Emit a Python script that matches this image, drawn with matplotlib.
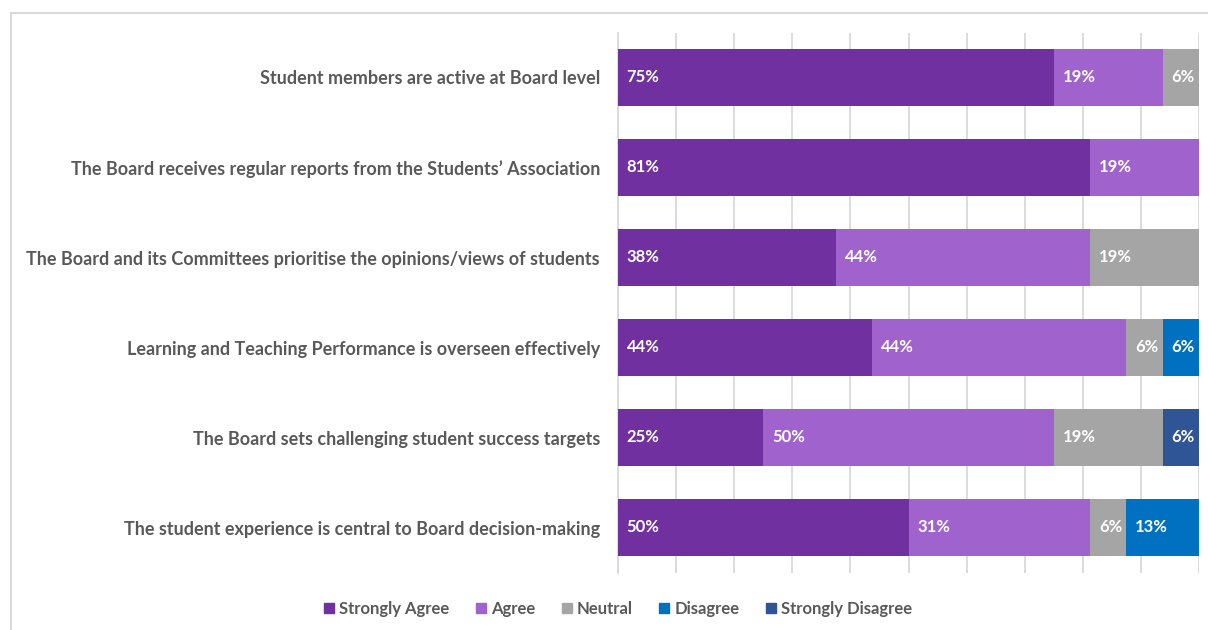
import numpy as np
import matplotlib.pyplot as plt
from matplotlib.lines import Line2D
from matplotlib.patches import Patch

# Survey statements (top to bottom) and response shares (%), 16 respondents
statements = [
    "Student members are active at Board level",
    "The Board receives regular reports from the Students\u2019 Association",
    "The Board and its Committees prioritise the opinions/views of students",
    "Learning and Teaching Performance is overseen effectively",
    "The Board sets challenging student success targets",
    "The student experience is central to Board decision-making",
]
strongly_agree = [75, 81.25, 37.5, 43.75, 25, 50]
agree = [18.75, 18.75, 43.75, 43.75, 50, 31.25]
neutral = [6.25, 0, 18.75, 6.25, 18.75, 6.25]
disagree = [0, 0, 0, 6.25, 0, 12.5]
strongly_disagree = [0, 0, 0, 0, 6.25, 0]

series = [
    ("Strongly Agree", strongly_agree, "#7030A0"),
    ("Agree", agree, "#A063CE"),
    ("Neutral", neutral, "#A5A5A5"),
    ("Disagree", disagree, "#0070C0"),
    ("Strongly Disagree", strongly_disagree, "#2F5597"),
]

plt.rcParams['font.family'] = ['Lato', 'DejaVu Sans']
text_grey = "#595959"

fig = plt.figure(figsize=(12.08, 6.3), dpi=100)
ax = fig.add_axes([618 / 1208, 1 - 572.5 / 630, 581 / 1208, 540 / 630])

y = np.arange(len(statements))
left = np.zeros(len(statements))
for name, vals, col in series:
    vals = np.array(vals, dtype=float)
    ax.barh(y, vals, left=left, height=0.64, color=col, label=name, zorder=3)
    for yi, (l, v) in enumerate(zip(left, vals)):
        if v > 0:
            ax.text(l + 1.5, yi, f"{int(v + 0.5)}%", color="white", fontsize=12,
                    fontweight="bold", va="center", ha="left", zorder=4)
    left += vals

ax.set_xlim(0, 100)
ax.set_ylim(len(statements) - 0.5, -0.5)
ax.set_xticks(np.arange(0, 101, 10))
ax.xaxis.grid(True, color="#D9D9D9", linewidth=1.3, zorder=0)
ax.tick_params(axis="x", length=0, labelbottom=False)
ax.tick_params(axis="y", length=0, pad=13)
ax.set_yticks(y)
ax.set_yticklabels(statements, fontsize=13, fontweight="bold", color=text_grey)
for s in ["top", "right", "bottom"]:
    ax.spines[s].set_visible(False)
ax.spines["left"].set_color("#D9D9D9")
ax.spines["left"].set_linewidth(1.3)

handles = [Patch(color=col, label=name) for name, _, col in series]
leg = fig.legend(handles=handles, loc="center", bbox_to_anchor=(618 / 1208, 1 - 609 / 630),
                 ncol=5, frameon=False, fontsize=12, handlelength=0.6, handleheight=0.6,
                 handletextpad=0.3, columnspacing=1.6)
for t in leg.get_texts():
    t.set_color(text_grey)
    t.set_fontweight("bold")

# outer chart border (top and left visible)
fig.add_artist(Line2D([10.5 / 1208, 1], [1 - 12.5 / 630, 1 - 12.5 / 630], color="#D9D9D9", lw=1.5))
fig.add_artist(Line2D([10.5 / 1208, 10.5 / 1208], [0, 1 - 12.5 / 630], color="#D9D9D9", lw=1.5))

fig.savefig("out.png", dpi=100)
